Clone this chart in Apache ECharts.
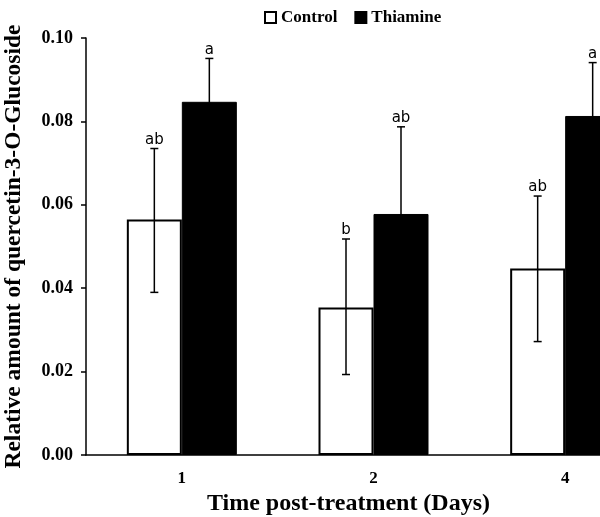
<!DOCTYPE html>
<html>
<head>
<meta charset="utf-8">
<script src="https://cdn.jsdelivr.net/npm/echarts@6/dist/echarts.min.js"></script>
<style>html,body{margin:0;padding:0;background:#fff;}#c{width:600px;height:517px;}</style>
</head>
<body>
<div id="c"></div>
<script>
var categories = ['1', '2', '4'];
var yTicks = [0, 0.02, 0.04, 0.06, 0.08, 0.10];
var control = [0.0565, 0.0354, 0.0447];
var controlUpper = [0.0735, 0.0518, 0.0621];
var controlLower = [0.0390, 0.0193, 0.0272];
var controlLetters = ['ab', 'b', 'ab'];
var thiamine = [0.0847, 0.0578, 0.0813];
var thiamineUpper = [0.0951, 0.0787, 0.0941];
var thiamineLower = [0.0743, 0.0369, 0.0685];
var thiamineLetters = ['a', 'ab', 'a'];

var serif = '"Liberation Serif", "Times New Roman", serif';
var BAR_W = 55;

function errData(upper, lower, letters) {
  return categories.map(function (c, i) { return [i, upper[i], lower[i], letters[i]]; });
}

function errRender(side) {
  return function (params, api) {
    var x = api.value(0);
    var top = api.coord([x, api.value(1)]);
    var bot = api.coord([x, api.value(2)]);
    var cx = top[0] + side * BAR_W / 2;
    var cap = 4;
    var s = { stroke: '#000', lineWidth: 1.5 };
    return {
      type: 'group',
      children: [
        { type: 'line', shape: { x1: cx, y1: top[1], x2: cx, y2: bot[1] }, style: s },
        { type: 'line', shape: { x1: cx - cap, y1: top[1], x2: cx + cap, y2: top[1] }, style: s },
        { type: 'line', shape: { x1: cx - cap, y1: bot[1], x2: cx + cap, y2: bot[1] }, style: s },
        { type: 'text', x: cx, y: top[1] - 1, style: { text: api.value(3), fill: '#000', font: '15px "DejaVu Sans", sans-serif', align: 'center', verticalAlign: 'bottom' } }
      ]
    };
  };
}

var chart = echarts.init(document.getElementById('c'));
chart.setOption({
  animation: false,
  backgroundColor: '#fff',
  legend: {
    data: ['Control', 'Thiamine'],
    left: 259, top: 4,
    icon: 'rect', itemWidth: 11, itemHeight: 11, itemGap: 17,
    textStyle: { fontFamily: serif, fontWeight: 'bold', fontSize: 17, color: '#000' }
  },
  grid: { left: 86, top: 38, width: 575, height: 417, containLabel: false, outerBoundsMode: 'none' },
  xAxis: {
    type: 'category',
    data: categories,
    name: 'Time post-treatment (Days)',
    nameLocation: 'middle',
    nameGap: 37,
    nameTextStyle: { fontFamily: serif, fontWeight: 'bold', fontSize: 24, color: '#000', padding: [0, 50, 0, 0] },
    axisLine: { lineStyle: { color: '#000', width: 1.5 } },
    axisTick: { length: 5, lineStyle: { color: '#000', width: 1.5 } },
    axisLabel: { fontFamily: serif, fontWeight: 'bold', fontSize: 17, color: '#000', margin: 15 }
  },
  yAxis: {
    type: 'value',
    min: 0, max: 0.10, interval: 0.02,
    name: 'Relative amount of quercetin-3-O-Glucoside',
    nameLocation: 'middle',
    nameGap: 60,
    nameTextStyle: { fontFamily: serif, fontWeight: 'bold', fontSize: 23.5, color: '#000' },
    axisLine: { show: true, lineStyle: { color: '#000', width: 1.5 } },
    axisTick: { show: true, length: 5, lineStyle: { color: '#000', width: 1.5 } },
    splitLine: { show: false },
    axisLabel: {
      fontFamily: serif, fontWeight: 'bold', fontSize: 18, color: '#000', margin: 13,
      formatter: function (v) { return v.toFixed(2); }
    }
  },
  series: [
    { name: 'Control', type: 'bar', data: control, barWidth: BAR_W, barGap: '0%',
      itemStyle: { color: '#fff', borderColor: '#000', borderWidth: 2 } },
    { name: 'Thiamine', type: 'bar', data: thiamine, barWidth: BAR_W, barGap: '0%',
      itemStyle: { color: '#000', borderColor: '#000', borderWidth: 1 } },
    { name: 'errC', type: 'custom', data: errData(controlUpper, controlLower, controlLetters),
      renderItem: errRender(-1), z: 5 },
    { name: 'errT', type: 'custom', data: errData(thiamineUpper, thiamineLower, thiamineLetters),
      renderItem: errRender(1), z: 5 }
  ]
});
</script>
</body>
</html>
